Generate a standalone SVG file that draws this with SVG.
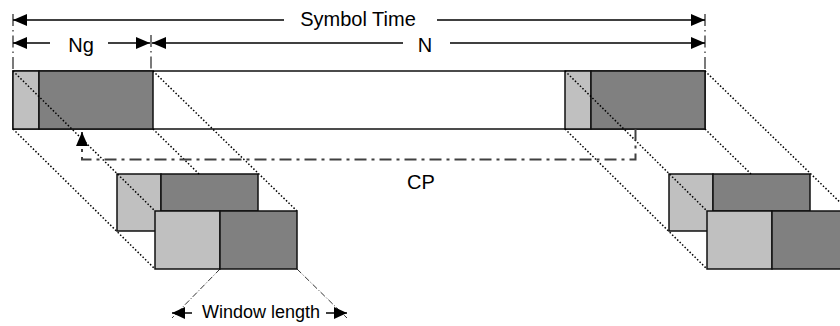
<svg xmlns="http://www.w3.org/2000/svg" width="840" height="326" viewBox="0 0 840 326">
  <style>
    .lbl { font-family: "Liberation Sans", Arial, sans-serif; font-size: 20px; fill: #000; }
    .seg { stroke: #111; stroke-width: 1.5; }
    .light { fill: #C0C0C0; }
    .dark { fill: #808080; }
    .white { fill: #FFFFFF; }
    .dim { stroke: #000; stroke-width: 1.5; fill: none; }
    .tick { stroke: #222; stroke-width: 1.2; stroke-dasharray: 12 4 1.5 4; fill: none; }
    .proj { stroke: #000; stroke-width: 1.5; stroke-dasharray: 1.5 2; fill: none; }
    .ext { stroke: #333; stroke-width: 1; stroke-dasharray: 6 2 1 2; fill: none; }
    .cp { stroke: #404040; stroke-width: 2; stroke-dasharray: 12 5 3 5; fill: none; }
  </style>
  <defs>
    <marker id="head" viewBox="0 0 14 12" refX="14" refY="6" markerWidth="14" markerHeight="12" markerUnits="userSpaceOnUse" orient="auto-start-reverse">
      <path d="M0,0 L14,6 L0,12 Z" fill="#000"/>
    </marker>
    <marker id="headSm" viewBox="0 0 13 12" refX="13" refY="6" markerWidth="13" markerHeight="12" markerUnits="userSpaceOnUse" orient="auto-start-reverse">
      <path d="M0,0 L13,6 L0,12 Z" fill="#000"/>
    </marker>
  </defs>

  <!-- OFDM symbol: guard interval and useful part -->
  <g id="symbol">
    <rect class="white seg" x="13" y="71" width="692" height="58"/>
    <rect class="light seg" x="13" y="71" width="26" height="58"/>
    <rect class="dark seg" x="39" y="71" width="114" height="58"/>
    <rect class="light seg" x="565" y="71" width="26" height="58"/>
    <rect class="dark seg" x="591" y="71" width="114" height="58"/>
  </g>

  <!-- rear copies -->
  <g id="copy-left-back">
    <rect class="light seg" x="117" y="174" width="44" height="57"/>
    <rect class="dark seg" x="161" y="174" width="97" height="37"/>
  </g>
  <g id="copy-right-back">
    <rect class="light seg" x="669" y="174" width="44" height="57"/>
    <rect class="dark seg" x="713" y="174" width="97" height="37"/>
  </g>

  <g id="connectors">
    <!-- dimension ticks -->
    <line class="tick" x1="13" y1="14" x2="13" y2="71"/>
    <line class="tick" x1="151" y1="35" x2="151" y2="71"/>
    <line class="tick" x1="705" y1="14" x2="705" y2="71"/>

    <!-- Symbol Time -->
    <line class="dim" x1="13" y1="20" x2="284" y2="20" marker-start="url(#head)"/>
    <line class="dim" x1="437" y1="20" x2="705" y2="20" marker-end="url(#head)"/>
    <!-- Ng -->
    <line class="dim" x1="13" y1="43" x2="50" y2="43" marker-start="url(#head)"/>
    <line class="dim" x1="108" y1="43" x2="150" y2="43" marker-end="url(#head)"/>
    <!-- N -->
    <line class="dim" x1="152" y1="43" x2="403" y2="43" marker-start="url(#head)"/>
    <line class="dim" x1="450" y1="43" x2="705" y2="43" marker-end="url(#head)"/>

    <!-- projection lines, left -->
    <line class="proj" x1="13" y1="71" x2="155" y2="211"/>
    <line class="proj" x1="13" y1="129" x2="155" y2="269"/>
    <line class="proj" x1="153" y1="71" x2="297" y2="211"/>
    <line class="proj" x1="153" y1="129" x2="199" y2="174"/>
    <!-- projection lines, right -->
    <line class="proj" x1="565" y1="71" x2="707" y2="211"/>
    <line class="proj" x1="565" y1="129" x2="707" y2="269"/>
    <line class="proj" x1="705" y1="71" x2="849" y2="211"/>
    <line class="proj" x1="705" y1="129" x2="751" y2="174"/>

    <!-- cyclic prefix bracket -->
    <path class="cp" d="M82,132 V159.5 H635.5 V129" marker-start="url(#head)"/>

    <!-- window length -->
    <line class="ext" x1="220" y1="269" x2="172" y2="318"/>
    <line class="ext" x1="297" y1="269" x2="347" y2="318"/>
    <line class="dim" x1="172" y1="313" x2="192" y2="313" marker-start="url(#headSm)"/>
    <line class="dim" x1="326" y1="313" x2="347" y2="313" marker-end="url(#headSm)"/>
  </g>

  <!-- front (windowed) copies -->
  <g id="copy-left-front">
    <rect class="light seg" x="155" y="211" width="65" height="58"/>
    <rect class="dark seg" x="220" y="211" width="77" height="58"/>
  </g>
  <g id="copy-right-front">
    <rect class="light seg" x="707" y="211" width="65" height="58"/>
    <rect class="dark seg" x="772" y="211" width="77" height="58"/>
  </g>

  <g id="labels">
    <text class="lbl" x="358" y="26" text-anchor="middle">Symbol Time</text>
    <text class="lbl" x="81" y="52" text-anchor="middle">Ng</text>
    <text class="lbl" x="425" y="52" text-anchor="middle">N</text>
    <text class="lbl" x="421" y="189" text-anchor="middle">CP</text>
    <text class="lbl" x="261" y="318" text-anchor="middle" style="font-size:18px">Window length</text>
  </g>
</svg>
